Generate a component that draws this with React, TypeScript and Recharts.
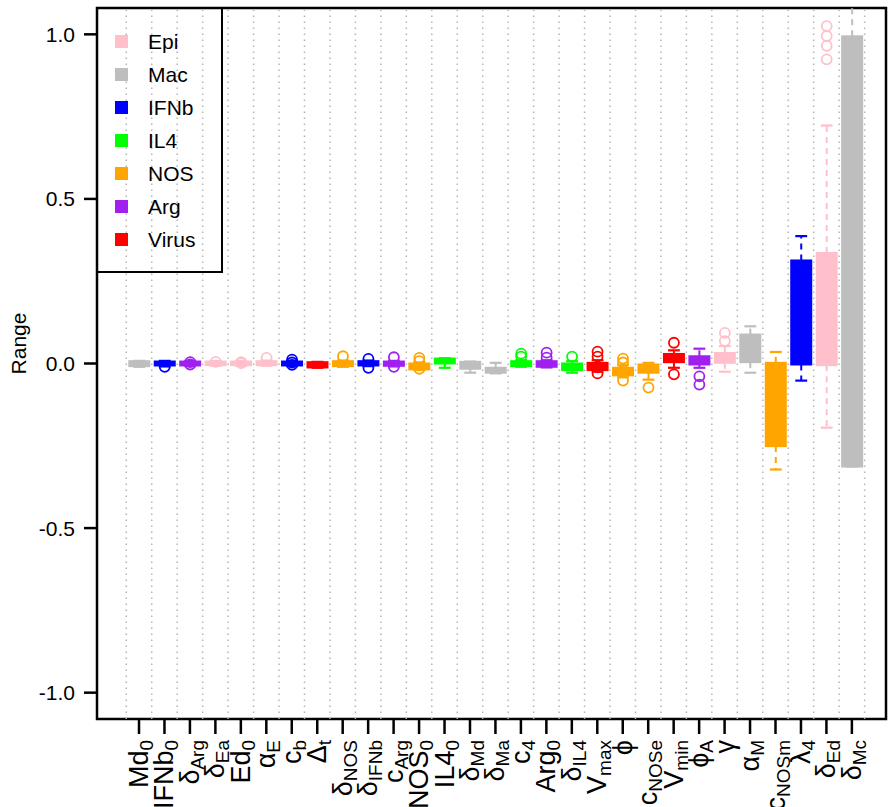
import React from "react";
import { ComposedChart, Bar, XAxis, YAxis, ReferenceArea, ReferenceLine } from "recharts";

const FONT = '"Liberation Sans", Arial, Helvetica, sans-serif';

// groups shown in the legend
const groups = ["Epi", "Mac", "IFNb", "IL4", "NOS", "Arg", "Virus"];
const groupColors = ["#FFC0CB", "#BEBEBE", "#0000FF", "#00FF00", "#FFA500", "#A020F0", "#FF0000"];

// parameter labels (base text + subscript)
const labelBase = ["Md", "IFNb", "δ", "δ", "Ed", "α", "c", "Δ", "δ", "δ", "c", "NOS", "IL4", "δ", "δ", "c", "Arg", "δ", "V", "ϕ", "c", "V", "ϕ", "γ", "α", "c", "λ", "δ", "δ"];
const labelSub = ["0", "0", "Arg", "Ea", "0", "E", "b", "t", "NOS", "IFNb", "Arg", "0", "0", "Md", "Ma", "4", "0", "IL4", "max", "", "NOSe", "min", "A", "", "M", "NOSm", "4", "Ed", "Mc"];
const paramGroup = ["Mac", "IFNb", "Arg", "Epi", "Epi", "Epi", "IFNb", "Virus", "NOS", "IFNb", "Arg", "NOS", "IL4", "Mac", "Mac", "IL4", "Arg", "IL4", "Virus", "NOS", "NOS", "Virus", "Arg", "Epi", "Mac", "NOS", "IFNb", "Epi", "Mac"];

// box statistics
const q1 = [-0.008, -0.006, -0.006, -0.005, -0.005, -0.005, -0.006, -0.012, -0.008, -0.006, -0.007, -0.018, 0.0, -0.016, -0.028, -0.008, -0.01, -0.02, -0.02, -0.036, -0.028, 0.004, -0.003, 0.002, 0.004, -0.251, -0.003, -0.005, -0.313];
const q3 = [0.007, 0.006, 0.006, 0.006, 0.006, 0.007, 0.006, 0.004, 0.007, 0.007, 0.006, 0.0, 0.015, 0.005, -0.013, 0.007, 0.007, 0.0, 0.002, -0.013, -0.003, 0.029, 0.022, 0.032, 0.088, 0.002, 0.313, 0.336, 0.994];
const whiskerLow = [-0.01, -0.009, -0.008, -0.007, -0.007, -0.007, -0.008, -0.013, -0.01, -0.008, -0.009, -0.02, -0.013, -0.028, -0.03, -0.01, -0.012, -0.028, -0.025, -0.042, -0.049, -0.013, -0.013, -0.025, -0.028, -0.322, -0.052, -0.195, -0.313];
const whiskerHigh = [0.008, 0.008, 0.008, 0.008, 0.008, 0.009, 0.008, 0.005, 0.009, 0.009, 0.008, 0.003, 0.016, 0.006, 0.002, 0.01, 0.01, 0.007, 0.01, -0.005, 0.002, 0.04, 0.045, 0.053, 0.113, 0.035, 0.387, 0.723, 1.12];
const outliers = [
  [],
  [-0.01],
  [0.004, -0.003],
  [0.005],
  [0.004, 0.001],
  [0.017],
  [0.012, 0.003, -0.004],
  [],
  [0.022],
  [0.014, -0.013],
  [0.019, -0.01],
  [0.017, 0.007, -0.016],
  [],
  [],
  [],
  [0.03, 0.021],
  [0.033, 0.018],
  [0.021],
  [0.036, 0.021, -0.012, -0.03],
  [0.015, 0.003, -0.052],
  [-0.073],
  [0.063, -0.033],
  [-0.039, -0.064],
  [0.093, 0.068],
  [],
  [],
  [],
  [1.025, 0.995, 0.965, 0.924],
  [],
];

const yTicks = [-1, -0.5, 0, 0.5, 1];

const data = labelBase.map((_, i) => {
  const all = [q1[i], q3[i], whiskerLow[i], whiskerHigh[i], ...outliers[i]];
  return {
    pos: i + 1,
    q1: q1[i],
    q3: q3[i],
    wlo: whiskerLow[i],
    whi: whiskerHigh[i],
    out: outliers[i],
    color: groupColors[groups.indexOf(paramGroup[i])],
    range: [Math.min(...all), Math.max(...all)],
  };
});

const positions = data.map((d) => d.pos);
const boundaries = [0.5, ...positions.map((p) => p + 0.5)];
const xDomain = [-0.65, 30.34];
const yDomain = [-1.08, 1.08];

const BoxShape = (props: any) => {
  const { x, y, width, height, payload } = props;
  const [lo, hi] = payload.range;
  const sy = (v: number) => y + ((hi - v) / (hi - lo)) * height;
  const cx = x + width / 2;
  const cap = width * 0.27;
  const c = payload.color;
  const bw = 2;
  return (
    <g>
      <line x1={cx} x2={cx} y1={sy(payload.q3)} y2={sy(payload.whi)} stroke={c} strokeWidth={2} strokeDasharray="6 5" />
      <line x1={cx} x2={cx} y1={sy(payload.q1)} y2={sy(payload.wlo)} stroke={c} strokeWidth={2} strokeDasharray="6 5" />
      <line x1={cx - cap} x2={cx + cap} y1={sy(payload.whi)} y2={sy(payload.whi)} stroke={c} strokeWidth={2.2} />
      <line x1={cx - cap} x2={cx + cap} y1={sy(payload.wlo)} y2={sy(payload.wlo)} stroke={c} strokeWidth={2.2} />
      <rect
        x={x + bw / 2}
        y={sy(payload.q3)}
        width={width - bw}
        height={Math.max(sy(payload.q1) - sy(payload.q3), 0.5)}
        fill={c}
        stroke={c}
        strokeWidth={bw}
      />
      {payload.out.map((o: number, k: number) => (
        <circle key={k} cx={cx} cy={sy(o)} r={5} fill="none" stroke={c} strokeWidth={1.8} />
      ))}
    </g>
  );
};

const XTick = (props: any) => {
  const { x, y, payload } = props;
  const i = Math.round(payload.value) - 1;
  return (
    <g transform={`translate(${x},${y}) rotate(-90)`}>
      <text textAnchor="end" dominantBaseline="central" fontFamily={FONT} fontSize={27} fill="#000">
        {labelBase[i]}
        {labelSub[i] ? (
          <tspan dy={7} fontSize={19}>
            {labelSub[i]}
          </tspan>
        ) : null}
      </text>
    </g>
  );
};

const YLabel = (props: any) => {
  const { viewBox } = props;
  const cx = viewBox.x + 18;
  const cy = viewBox.y + viewBox.height / 2 - 20;
  return (
    <text
      x={cx}
      y={cy}
      transform={`rotate(-90, ${cx}, ${cy})`}
      textAnchor="middle"
      dominantBaseline="central"
      fontFamily={FONT}
      fontSize={21}
      fill="#000"
    >
      Range
    </text>
  );
};

const LegendBox = () => (
  <div
    style={{
      position: "absolute",
      left: 96,
      top: 7,
      width: 127,
      height: 266,
      border: "2.5px solid #000",
      boxSizing: "border-box",
      paddingTop: 16,
      fontFamily: FONT,
      fontSize: 21,
      color: "#000",
    }}
  >
    {groups.map((g, i) => (
      <div key={g} style={{ height: 33, display: "flex", alignItems: "center" }}>
        <span style={{ display: "inline-block", width: 13, height: 13, background: groupColors[i], marginLeft: 17 }} />
        <span style={{ marginLeft: 20 }}>{g}</span>
      </div>
    ))}
  </div>
);

export default function App() {
  return (
    <div style={{ position: "absolute", left: 0, top: 0, width: 892, height: 807, background: "#fff" }}>
      <ComposedChart width={892} height={807} data={data} margin={{ top: 8, right: 6, bottom: 0, left: 0 }}>
        {boundaries.map((b) => (
          <ReferenceLine key={b} x={b} stroke="#b4b4b4" strokeWidth={1.5} strokeDasharray="1.5 4.5" />
        ))}
        <XAxis
          dataKey="pos"
          type="number"
          domain={xDomain}
          ticks={positions}
          interval={0}
          allowDataOverflow
          height={88}
          axisLine={false}
          tickLine={{ stroke: "#000", strokeWidth: 2.5 }}
          tickSize={15}
          tickMargin={6}
          tick={<XTick />}
        />
        <YAxis
          type="number"
          domain={yDomain}
          ticks={yTicks}
          allowDataOverflow
          width={97}
          axisLine={false}
          tickLine={{ stroke: "#000", strokeWidth: 2.5 }}
          tickSize={13}
          tickMargin={9}
          tickFormatter={(v: number) => v.toFixed(1)}
          tick={{ fill: "#000", fontSize: 21, fontFamily: FONT }}
          label={<YLabel />}
        />
        <Bar dataKey="range" barSize={22} isAnimationActive={false} shape={BoxShape} />
        <ReferenceArea
          x1={xDomain[0]}
          x2={xDomain[1]}
          y1={yDomain[0]}
          y2={yDomain[1]}
          fill="none"
          stroke="#000"
          strokeWidth={2.5}
          ifOverflow="visible"
        />
      </ComposedChart>
      <LegendBox />
    </div>
  );
}
